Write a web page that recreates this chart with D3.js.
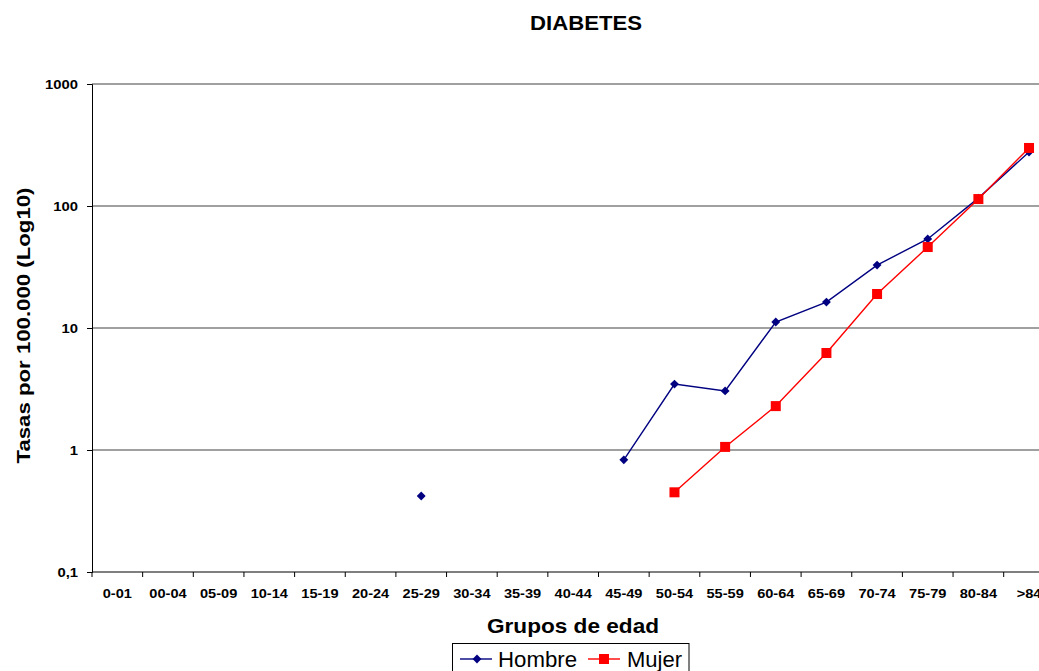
<!DOCTYPE html>
<html><head><meta charset="utf-8">
<script src="https://cdn.jsdelivr.net/npm/d3@7"></script>
<style>body{margin:0;background:#fff}svg{display:block;font-family:"Liberation Sans",Arial,sans-serif}</style>
</head><body><svg id="c" width="1039" height="671"></svg>
<script>
const categories = ["0-01","00-04","05-09","10-14","15-19","20-24","25-29","30-34","35-39","40-44","45-49","50-54","55-59","60-64","65-69","70-74","75-79","80-84",">84"];
const hombre = [null,null,null,null,null,null,0.42,null,null,null,0.83,3.47,3.05,11.2,16.3,32.8,53.7,116,277];
const mujer  = [null,null,null,null,null,null,null,null,null,null,null,0.45,1.06,2.29,6.24,19.0,46.1,114,299];
const yTicks = [0.1,1,10,100,1000];
const yTickLabels = ["0,1","1","10","100","1000"];

(function(){
const svg = d3.select("#c");
const mLeft = 92, mTop = 84, mBottom = 572, step = 50.65;
const x = d3.scaleBand().domain(categories).range([mLeft, mLeft + step*categories.length]).padding(0);
const y = d3.scaleLog().domain([0.1,1000]).range([mBottom, mTop]);

function stretch(sel, k){
  sel.each(function(){
    const w = this.getComputedTextLength();
    d3.select(this).attr("textLength", w*k).attr("lengthAdjust","spacingAndGlyphs");
  });
}

// gridlines
svg.append("g").selectAll("line").data(yTicks.slice(1)).join("line")
  .attr("x1", mLeft).attr("x2", 1039).attr("y1", d=>y(d)).attr("y2", d=>y(d))
  .attr("stroke","#808080").attr("stroke-width",1.3);

// y axis
const ya = svg.append("g").attr("transform",`translate(${mLeft},0)`)
  .call(d3.axisLeft(y).tickValues(yTicks).tickFormat((d,i)=>yTickLabels[i]).tickSizeOuter(0).tickSize(5));
ya.select(".domain").attr("stroke","#000");
ya.selectAll("line").attr("stroke","#000");
ya.selectAll("text").attr("font-size",13).attr("font-weight","bold").attr("fill","#000").attr("x",-14).attr("font-family","Liberation Sans, Arial, sans-serif");
stretch(ya.selectAll("text"), 1.14);

// x axis
const xa = svg.append("g").attr("transform",`translate(0,${mBottom})`);
xa.append("line").attr("x1",mLeft).attr("x2",1039).attr("y1",0).attr("y2",0).attr("stroke","#000");
xa.selectAll("line.t").data(categories).join("line").attr("class","t")
  .attr("x1",d=>x(d)).attr("x2",d=>x(d)).attr("y1",0).attr("y2",5).attr("stroke","#000");
xa.selectAll("text").data(categories).join("text")
  .attr("x",d=>x(d)+x.bandwidth()/2).attr("y",26).attr("text-anchor","middle")
  .attr("font-size",13).attr("font-weight","bold").text(d=>d);
stretch(xa.selectAll("text"), 1.12);

const cx = d => x(d)+x.bandwidth()/2;
const line = d3.line().defined(d=>d.v!=null).x(d=>cx(d.c)).y(d=>y(d.v));
const hData = categories.map((c,i)=>({c, v:hombre[i]}));
const mData = categories.map((c,i)=>({c, v:mujer[i]}));

svg.append("path").datum(hData).attr("d",line).attr("fill","none").attr("stroke","#000080").attr("stroke-width",1.4);
svg.append("path").datum(mData).attr("d",line).attr("fill","none").attr("stroke","#FF0000").attr("stroke-width",1.4);

const diamond = d3.symbol().type(d3.symbolDiamond2).size(50);
svg.append("g").selectAll("path").data(hData.filter(d=>d.v!=null)).join("path")
  .attr("transform",d=>`translate(${cx(d.c)},${y(d.v)})`).attr("d",diamond).attr("fill","#000080");
svg.append("g").selectAll("rect").data(mData.filter(d=>d.v!=null)).join("rect")
  .attr("x",d=>cx(d.c)-5).attr("y",d=>y(d.v)-5).attr("width",10).attr("height",10).attr("fill","#FF0000");

// titles
svg.append("text").attr("x",586).attr("y",30).attr("text-anchor","middle").attr("font-size",20).attr("font-weight","bold")
  .attr("textLength",112).attr("lengthAdjust","spacingAndGlyphs").text("DIABETES");
svg.append("text").attr("transform","translate(30,325.5) rotate(-90)").attr("text-anchor","middle").attr("font-size",18).attr("font-weight","bold")
  .attr("textLength",276).attr("lengthAdjust","spacingAndGlyphs").text("Tasas por 100.000 (Log10)");
svg.append("text").attr("x",573).attr("y",633).attr("text-anchor","middle").attr("font-size",21).attr("font-weight","bold")
  .attr("textLength",172).attr("lengthAdjust","spacingAndGlyphs").text("Grupos de edad");

// legend
const lg = svg.append("g");
lg.append("rect").attr("x",452.5).attr("y",643.5).attr("width",236.5).attr("height",32).attr("fill","#fff").attr("stroke","#000");
lg.append("line").attr("x1",460).attr("x2",492).attr("y1",659).attr("y2",659).attr("stroke","#000080").attr("stroke-width",1.4);
lg.append("path").attr("transform","translate(477,659)").attr("d",diamond).attr("fill","#000080");
lg.append("text").attr("x",498).attr("y",667).attr("font-size",22).attr("textLength",79).attr("lengthAdjust","spacingAndGlyphs").text("Hombre");
lg.append("line").attr("x1",588).attr("x2",620).attr("y1",659).attr("y2",659).attr("stroke","#FF0000").attr("stroke-width",1.4);
lg.append("rect").attr("x",599).attr("y",654).attr("width",10).attr("height",10).attr("fill","#FF0000");
lg.append("text").attr("x",627).attr("y",667).attr("font-size",22).attr("textLength",55).attr("lengthAdjust","spacingAndGlyphs").text("Mujer");
})();
</script></body></html>
